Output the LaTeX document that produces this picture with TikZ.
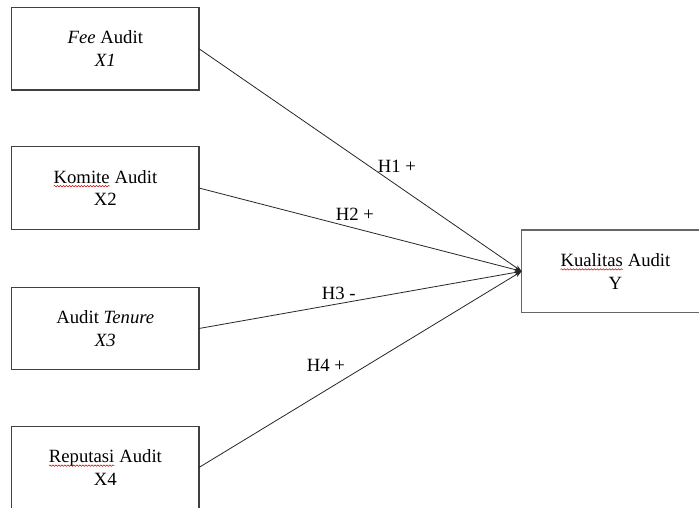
\documentclass[tikz,border=0pt]{standalone}
\usepackage{fontspec}
\setmainfont{Liberation Serif}
\usetikzlibrary{arrows.meta,decorations.pathmorphing}
\newcommand{\spellmark}[1]{\tikz[baseline=(sw.base)]{\node[draw=none,inner sep=0pt,outer sep=0pt,minimum width=0pt,minimum height=0pt,anchor=base](sw){#1};\draw[draw=red!80!black,line width=0.5pt,decorate,decoration={snake,amplitude=0.7pt,segment length=3pt}]([yshift=-3pt]sw.base west)--([yshift=-3pt]sw.base east);}}
\begin{document}
\begin{tikzpicture}[x=1pt,y=-1pt,
  box/.style={draw=black!75,line width=1.1pt,minimum width=187.3pt,minimum height=82.7pt,inner sep=0pt,outer sep=0pt,align=center,font=\fontsize{18.7}{22.7}\selectfont},
  lbl/.style={inner sep=0pt,font=\fontsize{18.7}{22.7}\selectfont},
  conn/.style={draw=black!85,line width=0.8pt,-{Stealth[length=7pt,width=5pt]}}]
\useasboundingbox (0,0) rectangle (699,508);
\fill[white] (0,0) rectangle (699,508);
\clip (0,0) rectangle (699,508);
\node[box] (x1) at (105.3,48.7) {\textit{Fee} Audit\\\textit{X1}};
\node[box] (x2) at (105.3,188) {\spellmark{Komite} Audit\\X2};
\node[box] (x3) at (105.3,328.5) {Audit \textit{Tenure}\\\textit{X3}};
\node[box] (x4) at (105.3,467.5) {\spellmark{Reputasi} Audit\\X4};
\node[box,draw=black!60,line width=1.3pt] (y) at (615.3,271.3) {\spellmark{Kualitas} Audit\\Y};
\draw[conn] (x1.east) -- (y.west);
\draw[conn] (x2.east) -- (y.west);
\draw[conn] (x3.east) -- (y.west);
\draw[conn] (x4.east) -- (y.west);
\node[lbl] (h1) at (397,166.5) {H1 +};
\node[lbl] (h2) at (355,214) {H2 +};
\node[lbl] (h3) at (338.7,293) {H3 -};
\node[lbl] (h4) at (326,365) {H4 +};
\end{tikzpicture}
\end{document}
